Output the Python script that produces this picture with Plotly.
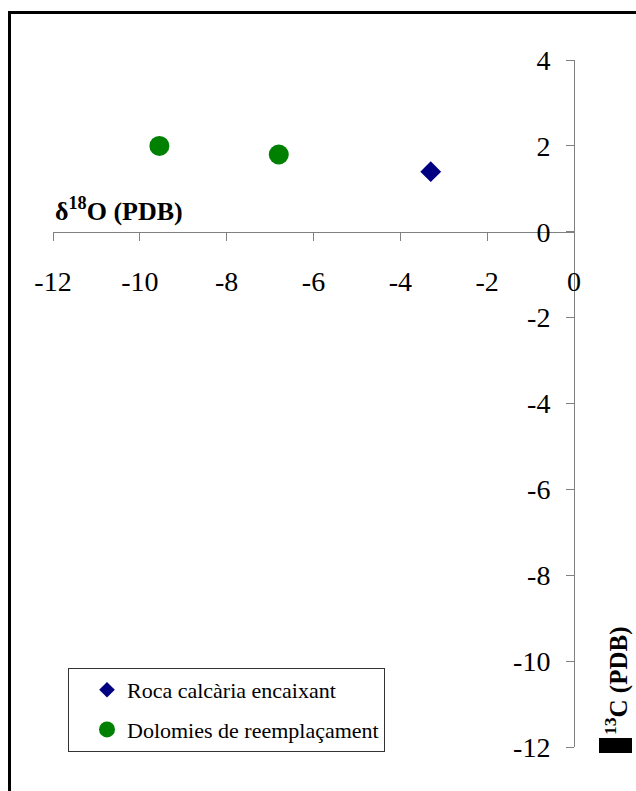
import plotly.graph_objects as go

# Stable isotope data (per mil, PDB)
roca_d18o = [-3.3]
roca_d13c = [1.4]
dolo_d18o = [-9.55, -6.8]
dolo_d13c = [2.0, 1.8]

x_ticks = [-12, -10, -8, -6, -4, -2, 0]
x_tick_labels = ["-12", "-10", "-8", "-6", "-4", "-2", "0"]
y_ticks = [4, 2, 0, -2, -4, -6, -8, -10, -12]
y_tick_labels = ["4", "2", "0", "-2", "-4", "-6", "-8", "-10", "-12"]

W, H = 636, 791
ML, MR, MT, MB = 53, 62, 60, 44
PW, PH = W - ML - MR, H - MT - MB
XR = [-12, 0]
YR = [-12, 4]


def px_x(px):
    return (px - ML) / PW


def px_y(py):
    return (H - MB - py) / PH


NAVY = "#000080"
GREEN = "#008000"
SERIF = "Liberation Serif, Times New Roman, serif"

fig = go.Figure()

fig.add_trace(go.Scatter(
    x=roca_d18o, y=roca_d13c, mode="markers", showlegend=False,
    marker=dict(symbol="diamond", size=16, color=NAVY, line=dict(width=0)),
))
fig.add_trace(go.Scatter(
    x=dolo_d18o, y=dolo_d13c, mode="markers", showlegend=False,
    marker=dict(symbol="circle", size=20, color=GREEN, line=dict(width=0)),
))
# legend entries
fig.add_trace(go.Scatter(
    x=[None], y=[None], mode="markers", name="Roca calcària encaixant",
    legendgroup="a",
    marker=dict(symbol="diamond", size=12, color=NAVY, line=dict(width=0)),
))
fig.add_trace(go.Scatter(
    x=[None], y=[None], mode="markers", name="Dolomies de reemplaçament",
    legendgroup="b",
    marker=dict(symbol="circle", size=16, color=GREEN, line=dict(width=0)),
))

axis_common = dict(
    showline=True, linecolor="#808080", linewidth=1,
    ticks="outside", ticklen=8, tickcolor="#808080", tickwidth=1,
    showgrid=False, zeroline=False, automargin=False,
    tickfont=dict(family=SERIF, size=28, color="black"),
)

fig.update_layout(
    template="none",
    width=W, height=H,
    margin=dict(l=ML, r=MR, t=MT, b=MB, pad=0),
    paper_bgcolor="white", plot_bgcolor="rgba(0,0,0,0)",
    xaxis=dict(range=XR, tickvals=x_ticks, ticktext=x_tick_labels,
               anchor="free", position=(0 - YR[0]) / (YR[1] - YR[0]),
               ticklabelstandoff=17, **axis_common),
    yaxis=dict(range=YR, tickvals=y_ticks, ticktext=y_tick_labels,
               anchor="free", position=1.0,
               side="left", ticklabelstandoff=10, **axis_common),
    legend=dict(
        x=px_x(68), y=px_y(668), xanchor="left", yanchor="top",
        bordercolor="#333333", borderwidth=1, bgcolor="white",
        font=dict(family=SERIF, size=22, color="black"),
        tracegroupgap=8, indentation=18, itemsizing="trace",
    ),
    showlegend=True,
)

# axis titles
fig.add_annotation(
    xref="x", yref="y", x=-12, y=0, xanchor="left", yanchor="bottom",
    xshift=0, yshift=4, showarrow=False,
    text="<b>δ<sup>18</sup>O (PDB)</b>",
    font=dict(family=SERIF, size=26, color="black"),
)
fig.add_annotation(
    xref="paper", yref="paper", x=px_x(616), y=px_y(737),
    xanchor="center", yanchor="bottom", textangle=-90, showarrow=False,
    text="<b><sup>13</sup>C (PDB)</b>",
    font=dict(family=SERIF, size=25, color="black"),
)
fig.add_shape(
    type="rect", xref="paper", yref="paper",
    x0=px_x(599), x1=px_x(632), y0=px_y(753), y1=px_y(738),
    fillcolor="black", line=dict(width=0),
)

# chart frame
fig.add_shape(
    type="rect", xref="paper", yref="paper",
    x0=px_x(9.5), x1=px_x(W + 20), y0=px_y(H + 20), y1=px_y(12.5),
    line=dict(color="black", width=3), fillcolor="rgba(0,0,0,0)",
    layer="below",
)

fig.write_html("out.html")
